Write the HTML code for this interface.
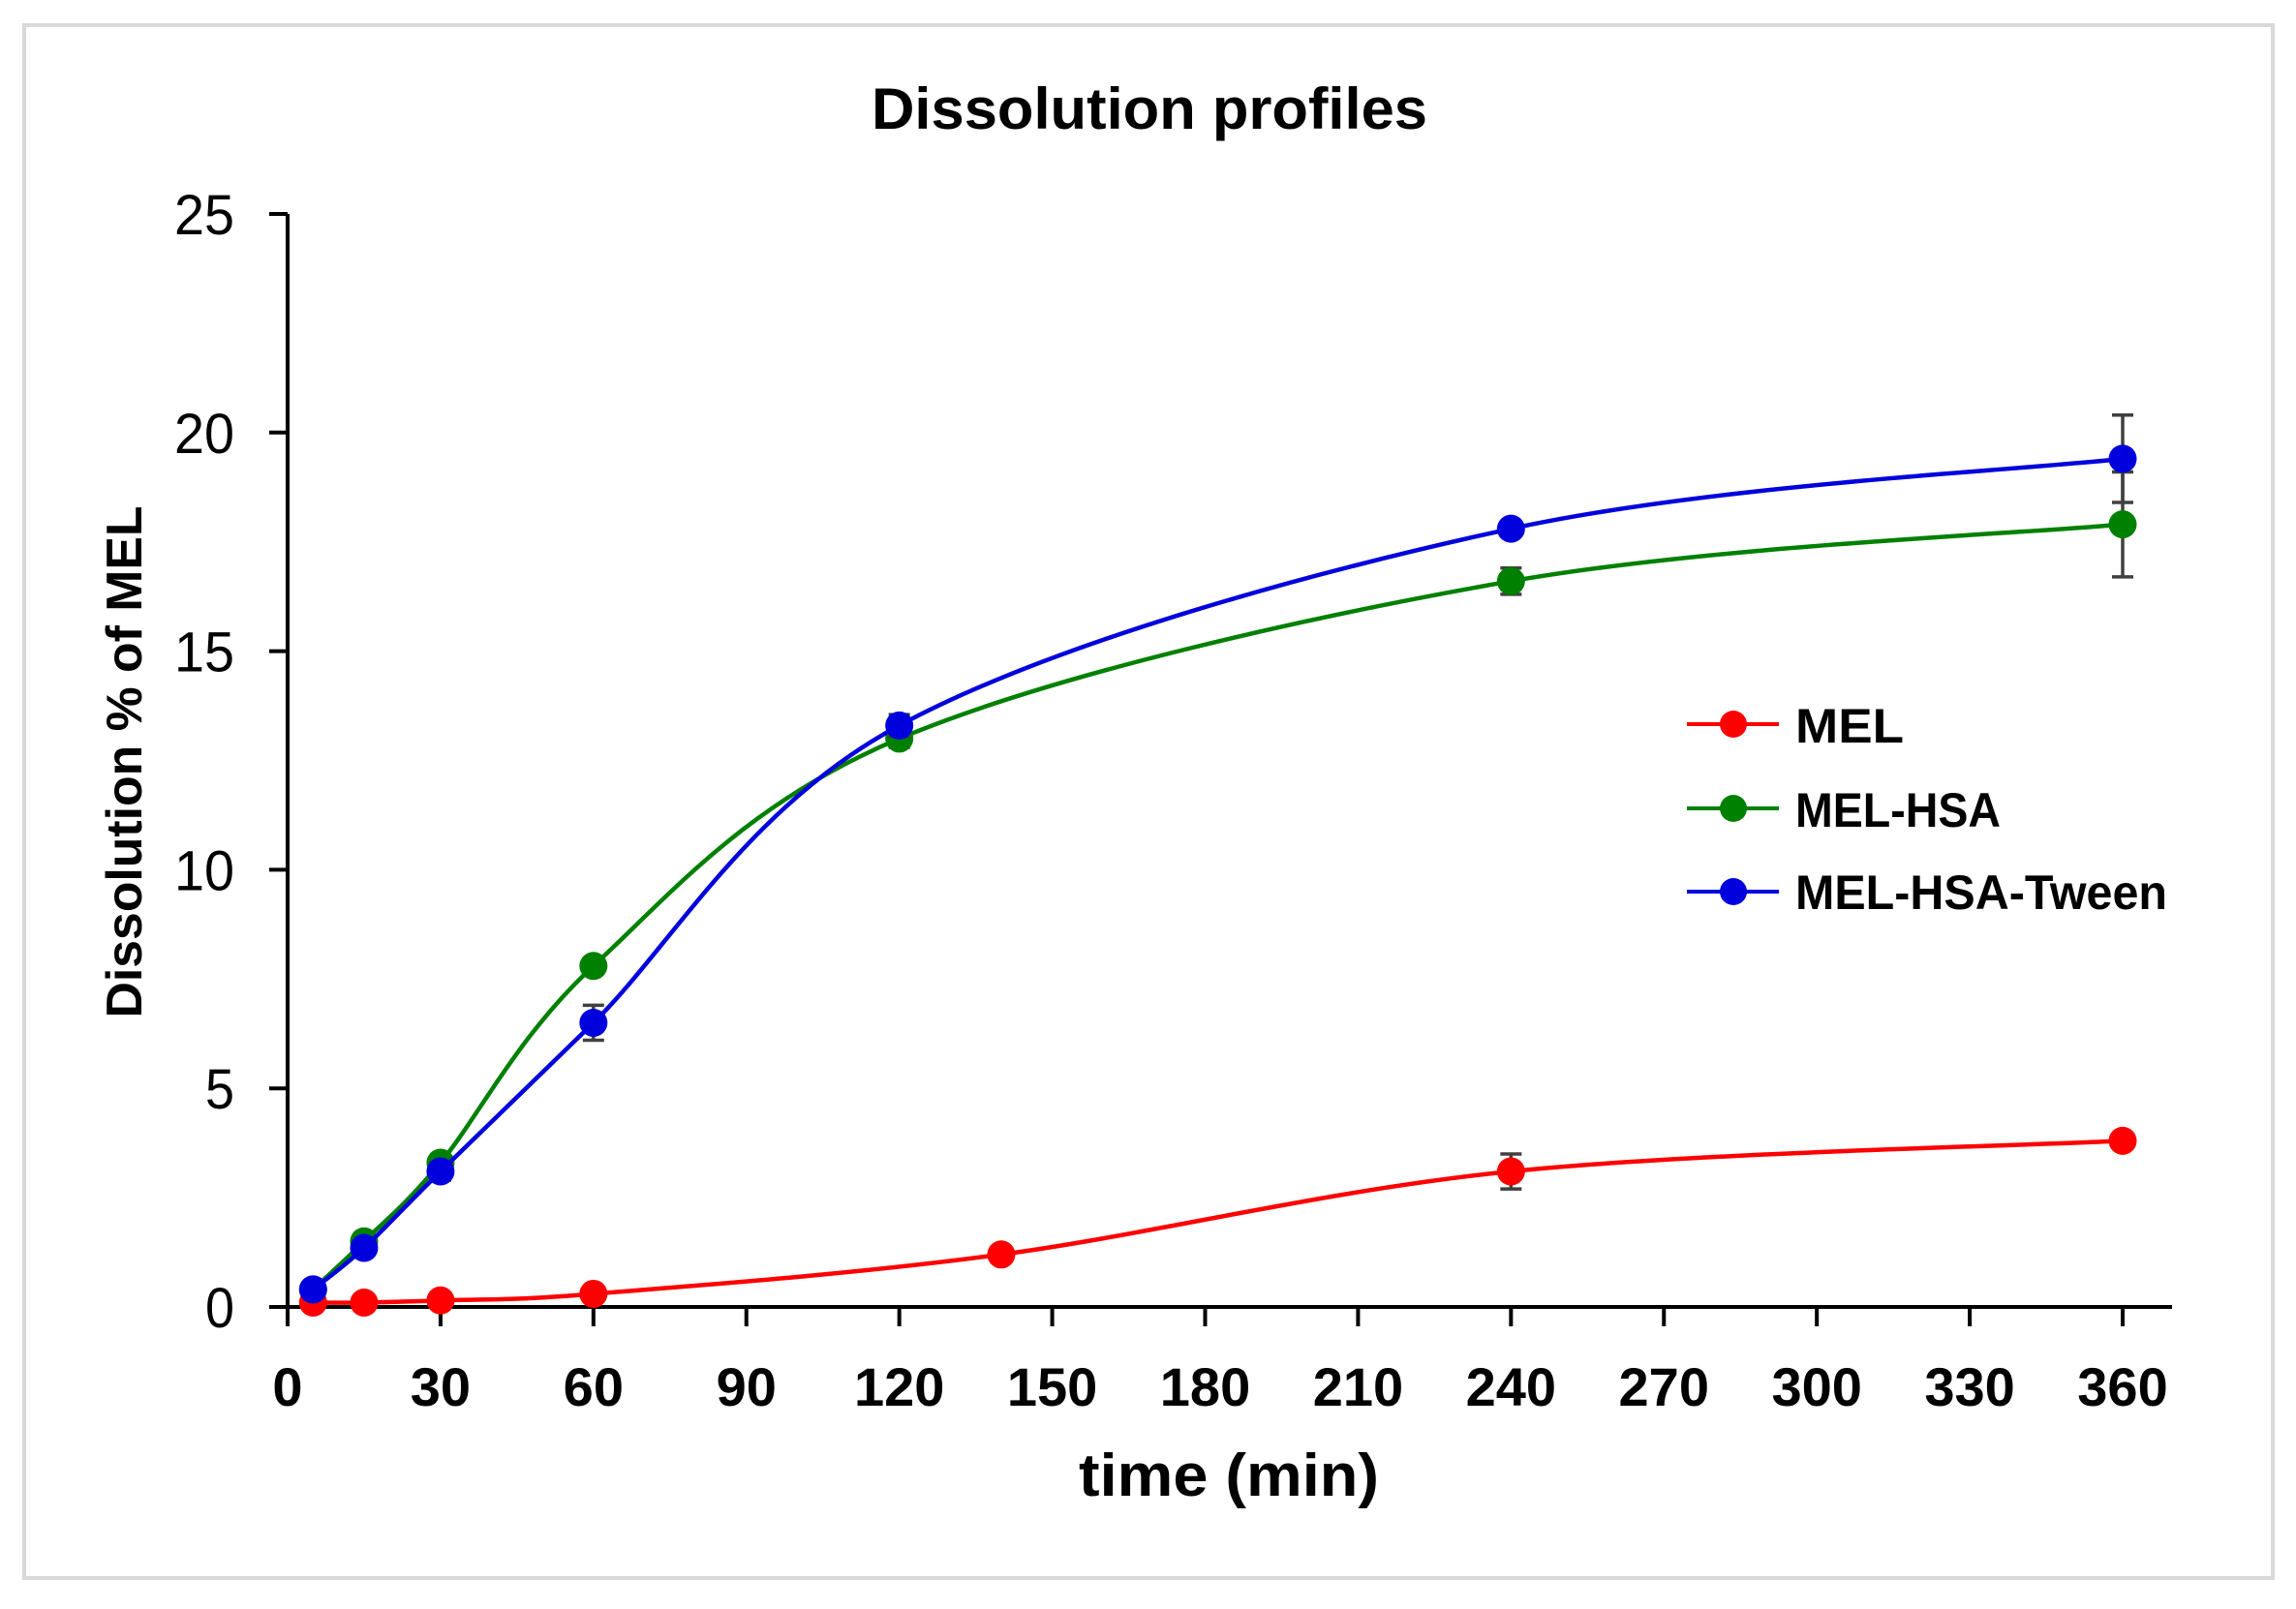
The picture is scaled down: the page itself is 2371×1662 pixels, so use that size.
<!DOCTYPE html>
<html><head><meta charset="utf-8"><style>html,body{margin:0;padding:0;background:#fff}svg{display:block}</style></head>
<body>
<svg id="s" width="2371" height="1662" xmlns="http://www.w3.org/2000/svg" font-family="Liberation Sans, sans-serif">
<rect x="0" y="0" width="2371" height="1662" fill="#fff"/>
<rect x="25" y="26" width="2322" height="1604" fill="none" stroke="#d9d9d9" stroke-width="4"/>
<text x="1187" y="133" font-size="60" font-weight="bold" text-anchor="middle" textLength="574" lengthAdjust="spacingAndGlyphs">Dissolution profiles</text>
<text transform="translate(146,787) rotate(-90)" font-size="52" font-weight="bold" text-anchor="middle" textLength="529" lengthAdjust="spacingAndGlyphs">Dissolution % of MEL</text>
<text x="1269" y="1545" font-size="62" font-weight="bold" text-anchor="middle" textLength="310" lengthAdjust="spacingAndGlyphs">time (min)</text>
<g id="ax" stroke="#000" stroke-width="4" fill="none"></g>
<g id="tl" font-size="58" fill="#000"></g>
<g id="ser"></g>
<g font-size="50" font-weight="bold">
<line x1="1742" y1="748" x2="1837" y2="748" stroke="#ff0000" stroke-width="4"/><circle cx="1790" cy="748" r="14" fill="#ff0000"/>
<text x="1854" y="767" textLength="112" lengthAdjust="spacingAndGlyphs">MEL</text>
<line x1="1742" y1="835" x2="1837" y2="835" stroke="#008000" stroke-width="4"/><circle cx="1790" cy="835" r="14" fill="#008000"/>
<text x="1854" y="854" textLength="212" lengthAdjust="spacingAndGlyphs">MEL-HSA</text>
<line x1="1742" y1="921" x2="1837" y2="921" stroke="#0000dd" stroke-width="4"/><circle cx="1790" cy="921" r="14" fill="#0000dd"/>
<text x="1854" y="939" textLength="384" lengthAdjust="spacingAndGlyphs">MEL-HSA-Tween</text>
</g>
</svg>
<script>
const NS="http://www.w3.org/2000/svg";
const X0=297,XS=(2192-297)/360,Y0=1350,YS=(1350-221)/25;
const px=t=>X0+t*XS, py=v=>Y0-v*YS;
function el(p,tag,a,txt){const e=document.createElementNS(NS,tag);for(const k in a)e.setAttribute(k,a[k]);if(txt!=null)e.textContent=txt;p.appendChild(e);return e;}
const ax=document.getElementById('ax'),tl=document.getElementById('tl'),ser=document.getElementById('ser');
el(ax,'line',{x1:X0,y1:221,x2:X0,y2:1368});
el(ax,'line',{x1:278,y1:Y0,x2:2243,y2:Y0});
for(let v=0;v<=25;v+=5){el(ax,'line',{x1:278,y1:py(v),x2:X0,y2:py(v)});el(tl,'text',{x:242,y:py(v)+21,'text-anchor':'end',textLength:(v<10?30:62),lengthAdjust:'spacingAndGlyphs'},String(v));}
for(let t=0;t<=360;t+=30){el(ax,'line',{x1:px(t),y1:Y0,x2:px(t),y2:1370});el(tl,'text',{x:px(t),y:1452,'text-anchor':'middle','font-weight':'bold','font-size':56},String(t));}
const S=[
 {c:'#ff0000',d:[[5,0.1],[15,0.1],[30,0.15],[60,0.3],[140,1.2],[240,3.1,0.4],[360,3.8]]},
 {c:'#008000',d:[[5,0.4],[15,1.5],[30,3.3],[60,7.8],[120,13.0,0.2],[240,16.6,0.3],[360,17.9,1.2]]},
 {c:'#0000dd',d:[[5,0.4],[15,1.35],[30,3.1,0.2],[60,6.5,0.4],[120,13.3,0.25],[240,17.8],[360,19.4,1.0]]}
];
S.forEach(s=>{
 const P=s.d.map(d=>[px(d[0]),py(d[1])]);
 let d=`M${P[0][0]},${P[0][1]}`;
 for(let i=0;i<P.length-1;i++){
  const p0=P[Math.max(0,i-1)],p1=P[i],p2=P[i+1],p3=P[Math.min(P.length-1,i+2)];
  const c1=[p1[0]+(p2[0]-p0[0])/6,p1[1]+(p2[1]-p0[1])/6],c2=[p2[0]-(p3[0]-p1[0])/6,p2[1]-(p3[1]-p1[1])/6];
  d+=` C${c1[0]},${c1[1]} ${c2[0]},${c2[1]} ${p2[0]},${p2[1]}`;
 }
 el(ser,'path',{d:d,fill:'none',stroke:s.c,'stroke-width':4.5});
 s.d.forEach(q=>{ if(q[2]){const x=px(q[0]),a=py(q[1]+q[2]),b=py(q[1]-q[2]);
  el(ser,'path',{d:`M${x},${a}V${b}M${x-11},${a}H${x+11}M${x-11},${b}H${x+11}`,stroke:'#404040','stroke-width':3.5,fill:'none'});}});
 s.d.forEach(q=>el(ser,'circle',{cx:px(q[0]),cy:py(q[1]),r:14.5,fill:s.c}));
});
</script>
</body></html>
